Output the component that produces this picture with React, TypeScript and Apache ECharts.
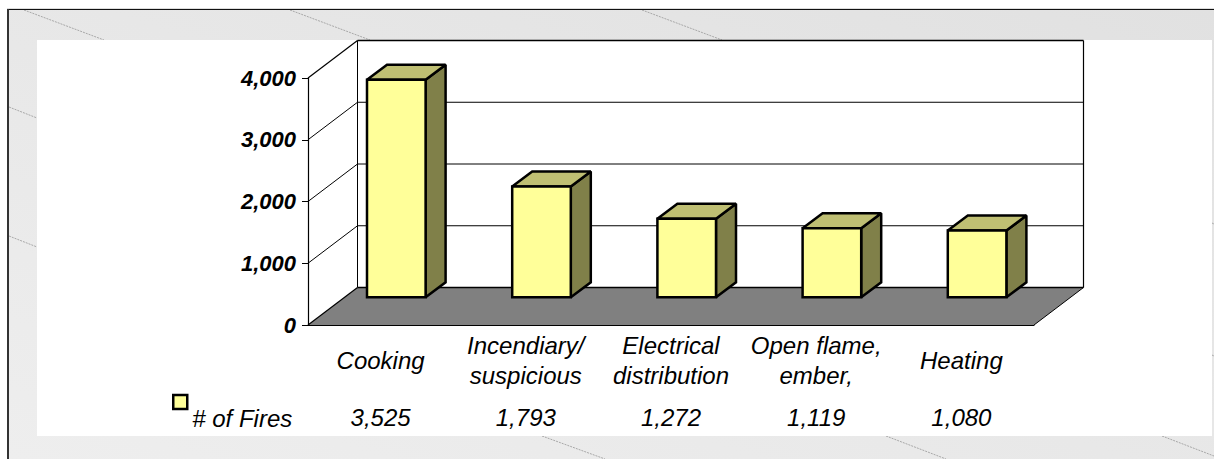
import React, { useEffect, useRef } from "react";
import * as echarts from "echarts";

const categories = ["Cooking", "Incendiary/\nsuspicious", "Electrical\ndistribution", "Open flame,\nember,", "Heating"];
const fires = [3525, 1793, 1272, 1119, 1080];
const yTicks = [0, 1000, 2000, 3000, 4000];
const seriesName = "# of Fires";

const FONT = '"Liberation Sans", Arial, sans-serif';
const W = 1214;
const H = 459;

// Oblique projection of the plot box and of the bars
const DEPTH_X = 49.5;
const DEPTH_Y = 37.5;
const BAR_SHIFT_X = 15.7;
const BAR_SHIFT_Y = 27.7;
const BAR_WIDTH = 58.6;
const BAR_DX = 20;
const BAR_DY = 15;

// Faint sloping strokes of the slide background
const bgStrokes = [
  [24, 10, 104, 40], [290, 10, 370, 40], [642, 10, 722, 40],
  [9, 107, 37, 118], [9, 236, 37, 247],
  [1212, 223, 1214, 224], [1212, 355, 1214, 356],
  [542, 436, 605, 459], [886, 436, 946, 459], [1162, 436, 1214, 456],
];

const num = (v: number) => v.toLocaleString("en-US");

const line = (x1: number, y1: number, x2: number, y2: number, lineWidth = 1, stroke = "#000") => ({
  type: "line",
  shape: { x1, y1, x2, y2 },
  style: { stroke, lineWidth, fill: null },
});

const poly = (points: number[][], fill: string, stroke: string | null = "#000", lineWidth = 2.5) => ({
  type: "polygon",
  shape: { points },
  style: { fill, stroke, lineWidth, lineJoin: "miter", miterLimit: 1.5 },
});

function renderFrame(params: any, api: any) {
  const cs = params.coordSys;
  const v = api.value(1);
  const y = api.coord([0, v])[1];
  const L = cs.x;
  const R = cs.x + cs.width;
  const children: any[] = [];
  if (v === 0) {
    children.push(
      poly([[L, y], [R, y], [R + DEPTH_X, y - DEPTH_Y], [L + DEPTH_X, y - DEPTH_Y]], "#808080", null, 0),
      line(L, y, L + DEPTH_X, y - DEPTH_Y, 1.2),
      line(R, y, R + DEPTH_X, y - DEPTH_Y, 1),
      line(L + DEPTH_X, y - DEPTH_Y, R + DEPTH_X, y - DEPTH_Y, 1.6),
      line(L + DEPTH_X, cs.y - DEPTH_Y, L + DEPTH_X, y - DEPTH_Y, 1),
      line(R + DEPTH_X, cs.y - DEPTH_Y, R + DEPTH_X, y - DEPTH_Y, 1.2)
    );
  } else {
    children.push(
      line(L, y, L + DEPTH_X, y - DEPTH_Y, v === yTicks[yTicks.length - 1] ? 1.2 : 1),
      line(L + DEPTH_X, y - DEPTH_Y, R + DEPTH_X, y - DEPTH_Y, v === yTicks[yTicks.length - 1] ? 1.4 : 1)
    );
  }
  return { type: "group", children };
}

function renderBar(_params: any, api: any) {
  const top = api.coord([api.value(0), api.value(1)]);
  const base = api.coord([api.value(0), 0]);
  const x0 = top[0] + BAR_SHIFT_X - BAR_WIDTH / 2;
  const x1 = x0 + BAR_WIDTH;
  const yT = top[1] - BAR_SHIFT_Y;
  const yB = base[1] - BAR_SHIFT_Y;
  return {
    type: "group",
    children: [
      poly([[x1, yT], [x1 + BAR_DX, yT - BAR_DY], [x1 + BAR_DX, yB - BAR_DY], [x1, yB]], "#808049"),
      poly([[x0, yT], [x0 + BAR_DX, yT - BAR_DY], [x1 + BAR_DX, yT - BAR_DY], [x1, yT]], "#BFBF73"),
      poly([[x0, yT], [x1, yT], [x1, yB], [x0, yB]], "#FFFF99"),
    ],
  };
}

export default function App() {
  const ref = useRef<HTMLDivElement>(null);

  useEffect(() => {
    const chart = echarts.init(ref.current!, null, { renderer: "svg", width: W, height: H });
    chart.setOption({
      animation: false,
      backgroundColor: "#fff",
      graphic: {
        elements: [
          {
            type: "rect",
            z: -30,
            shape: { x: 8, y: 9, width: W - 8, height: H - 9 },
            style: {
              fill: {
                type: "linear", x: 1, y: 0, x2: 0, y2: 1,
                colorStops: [
                  { offset: 0, color: "#e1e1e1" },
                  { offset: 1, color: "#eeeeee" },
                ],
              },
            },
          },
          ...bgStrokes.map(([x1, y1, x2, y2]) => ({
            type: "line",
            z: -29,
            shape: { x1, y1, x2, y2 },
            style: { stroke: "#a8a8a8", lineWidth: 1, lineDash: [2, 1] },
          })),
          {
            type: "rect",
            z: -28,
            shape: { x: 37, y: 40, width: 1175, height: 396 },
            style: { fill: "#ffffff" },
          },
          { type: "line", z: -27, shape: { x1: 7, y1: 8.5, x2: W, y2: 8.5 }, style: { stroke: "#dddddd", lineWidth: 1 } },
          { type: "line", z: -26, shape: { x1: 7, y1: 9.5, x2: W, y2: 9.5 }, style: { stroke: "#111111", lineWidth: 1 } },
          { type: "line", z: -26, shape: { x1: 8, y1: 9, x2: 8, y2: H }, style: { stroke: "#333333", lineWidth: 2 } },
        ],
      },
      grid: { left: 308, right: W - 1034, top: 78, bottom: H - 325, containLabel: false },
      legend: {
        left: 172,
        top: 370,
        padding: 0,
        icon: "rect",
        itemWidth: 14,
        itemHeight: 14,
        data: [{
          name: seriesName,
          icon: "rect",
          itemStyle: { color: "#FFFF99", borderColor: "#000", borderWidth: 2.5 },
        }],
        selectedMode: false,
        formatter: (n: string) => "\n" + n,
        textStyle: {
          fontFamily: FONT, fontStyle: "italic", fontSize: 24, color: "#000",
          lineHeight: 32,
        },
      },
      xAxis: [
        {
          type: "category",
          data: categories,
          z: 5,
          axisLine: { show: true, lineStyle: { color: "#000", width: 1 } },
          axisTick: { show: false },
          axisLabel: {
            interval: 0,
            margin: 35,
            verticalAlign: "middle",
            fontFamily: FONT,
            fontStyle: "italic",
            fontSize: 24,
            lineHeight: 30,
            color: "#000",
          },
        },
        {
          type: "category",
          position: "bottom",
          data: fires.map(num),
          axisLine: { show: false },
          axisTick: { show: false },
          axisLabel: {
            interval: 0,
            margin: 92,
            verticalAlign: "middle",
            fontFamily: FONT,
            fontStyle: "italic",
            fontSize: 24,
            color: "#000",
          },
        },
      ],
      yAxis: {
        type: "value",
        min: 0,
        max: 4000,
        interval: 1000,
        z: 5,
        splitLine: { show: false },
        axisLine: { show: true, lineStyle: { color: "#000", width: 1.2 } },
        axisTick: { show: true, length: 6, lineStyle: { color: "#000", width: 1 } },
        axisLabel: {
          margin: 12,
          formatter: (v: number) => num(v),
          fontFamily: FONT,
          fontStyle: "italic",
          fontWeight: "bold",
          fontSize: 22,
          color: "#000",
        },
      },
      series: [
        {
          type: "custom",
          silent: true,
          z: 1,
          renderItem: renderFrame,
          encode: { x: 0, y: 1 },
          data: yTicks.map((v) => [0, v]),
        },
        {
          type: "custom",
          name: seriesName,
          z: 3,
          itemStyle: { color: "#FFFF99" },
          renderItem: renderBar,
          encode: { x: 0, y: 1 },
          data: fires.map((v, i) => [i, v]),
        },
      ],
    });
    return () => chart.dispose();
  }, []);

  return <div ref={ref} style={{ position: "absolute", left: 0, top: 0, width: W, height: H }} />;
}
